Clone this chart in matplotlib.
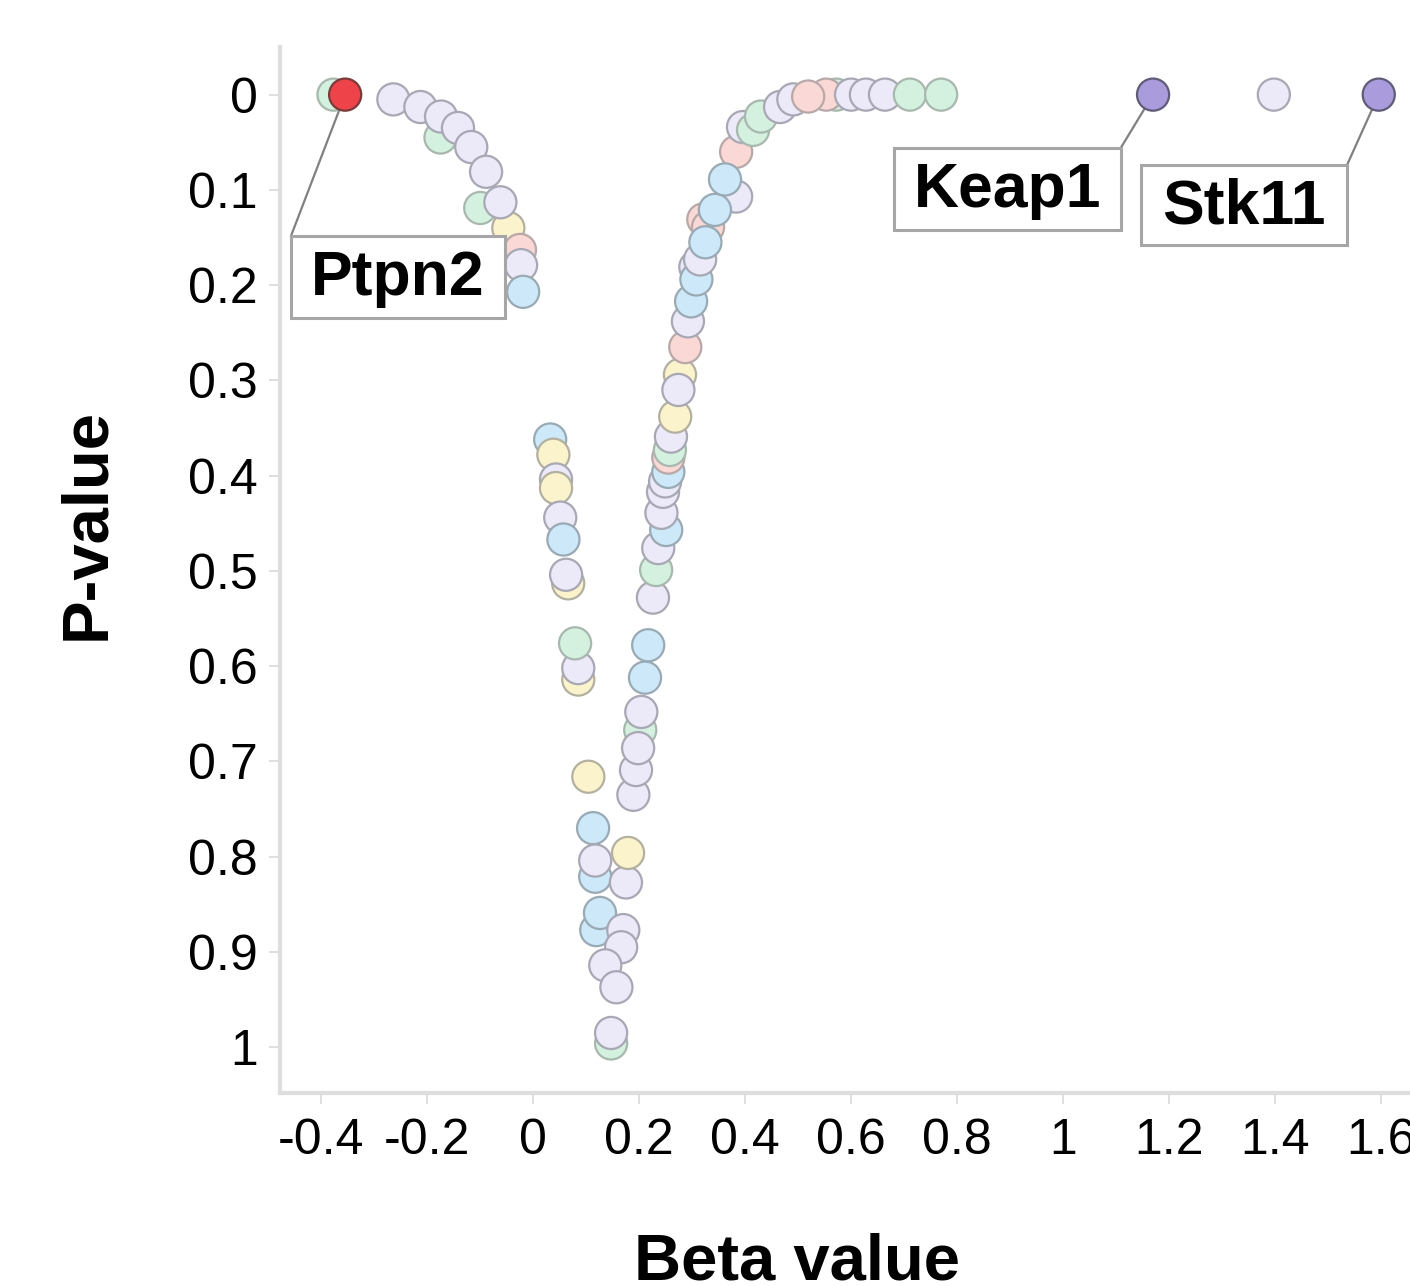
import matplotlib
matplotlib.use("Agg")
import matplotlib.pyplot as plt
from matplotlib.patches import Rectangle

plt.rcParams['font.family'] = ['Liberation Sans', 'DejaVu Sans']

# ---- data ----
beta = [-0.377, -0.355, -0.264, -0.213, -0.175, -0.174, -0.142, -0.117, -0.089,
        -0.100, -0.047, -0.062, -0.025, -0.023, -0.019,
        0.032, 0.038, 0.043, 0.043, 0.051, 0.057, 0.066, 0.062, 0.085, 0.085,
        0.079, 0.104, 0.117, 0.113, 0.117, 0.175, 0.179, 0.119, 0.126, 0.170,
        0.166, 0.136, 0.157, 0.147, 0.147,
        0.189, 0.194, 0.202, 0.198, 0.204, 0.211, 0.217, 0.226, 0.232, 0.236,
        0.251, 0.242, 0.245, 0.249, 0.255, 0.255, 0.258, 0.260, 0.268, 0.277,
        0.274, 0.287, 0.292, 0.298, 0.306, 0.308, 0.315, 0.321, 0.330, 0.325,
        0.383, 0.343, 0.383, 0.362, 0.396, 0.415, 0.430, 0.466, 0.491, 0.572,
        0.553, 0.519, 0.600, 0.628, 0.664, 0.711, 0.770,
        1.170, 1.398, 1.596]
pval = [0.000, 0.000, 0.005, 0.013, 0.045, 0.023, 0.035, 0.055, 0.081,
        0.119, 0.140, 0.113, 0.163, 0.179, 0.207,
        0.362, 0.378, 0.404, 0.413, 0.444, 0.467, 0.513, 0.504, 0.614, 0.602,
        0.576, 0.716, 0.821, 0.770, 0.804, 0.827, 0.796, 0.877, 0.859, 0.877,
        0.895, 0.914, 0.937, 0.996, 0.985,
        0.735, 0.709, 0.667, 0.686, 0.648, 0.612, 0.578, 0.528, 0.499, 0.476,
        0.457, 0.439, 0.417, 0.406, 0.396, 0.381, 0.373, 0.359, 0.338, 0.294,
        0.310, 0.265, 0.238, 0.217, 0.181, 0.194, 0.173, 0.131, 0.139, 0.155,
        0.107, 0.121, 0.060, 0.089, 0.034, 0.037, 0.023, 0.013, 0.005, 0.000,
        0.000, 0.002, 0.000, 0.000, 0.000, 0.000, 0.000,
        0.000, 0.000, 0.000]
group = ['G', 'R', 'L', 'L', 'G', 'L', 'L', 'L', 'L',
         'G', 'Y', 'L', 'P', 'L', 'B',
         'B', 'Y', 'L', 'Y', 'L', 'B', 'Y', 'L', 'Y', 'L',
         'G', 'Y', 'B', 'B', 'L', 'L', 'Y', 'B', 'B', 'L',
         'L', 'L', 'L', 'G', 'L',
         'L', 'L', 'G', 'L', 'L', 'B', 'B', 'L', 'G', 'L',
         'B', 'L', 'L', 'L', 'B', 'P', 'G', 'L', 'Y', 'Y',
         'L', 'P', 'L', 'B', 'L', 'B', 'L', 'P', 'P', 'B',
         'L', 'B', 'P', 'B', 'L', 'G', 'G', 'L', 'L', 'G',
         'P', 'P', 'L', 'L', 'L', 'G', 'G',
         'U', 'L', 'U']

labels = ['Ptpn2', 'Keap1', 'Stk11']
label_idx = [1, 87, 89]

xticks = [-0.4, -0.2, 0, 0.2, 0.4, 0.6, 0.8, 1, 1.2, 1.4, 1.6]
xtick_labels = ['-0.4', '-0.2', '0', '0.2', '0.4', '0.6', '0.8', '1', '1.2', '1.4', '1.6']
yticks = [0, 0.1, 0.2, 0.3, 0.4, 0.5, 0.6, 0.7, 0.8, 0.9, 1]
ytick_labels = ['0', '0.1', '0.2', '0.3', '0.4', '0.5', '0.6', '0.7', '0.8', '0.9', '1']

# label boxes (layout): left, top, right, bottom in data units; connector corner
boxes = [(-0.457, 0.148, -0.053, 0.234), (0.681, 0.056, 1.109, 0.142),
         (1.147, 0.074, 1.536, 0.158)]
corners = [(-0.457, 0.148), (1.109, 0.056), (1.536, 0.074)]

face = {'L': '#ECE9F8', 'G': '#D4F1E0', 'B': '#CDE8F8', 'Y': '#FBF3CC',
        'P': '#F9D8D5', 'R': '#EE4449', 'U': '#A99BDC'}
edge = {'L': '#A8A8B4', 'G': '#A8B8AE', 'B': '#99AAB4', 'Y': '#B4B0A0',
        'P': '#B8A8A8', 'R': '#7A3A3A', 'U': '#605C78'}

fig = plt.figure(figsize=(14.1, 12.86), dpi=100)
ax = fig.add_axes([280 / 1410, 1 - 1093 / 1286, 1130 / 1410, (1093 - 47) / 1286])

fc = [face[g] for g in group]
ec = [edge[g] for g in group]
ax.scatter(beta, pval, s=535, c=fc, edgecolors=ec, linewidths=1.6, zorder=3)

for name, i, (l, t, r, b), (cx, cy) in zip(labels, label_idx, boxes, corners):
    ax.plot([beta[i], cx], [pval[i], cy], color='#808080', lw=1.6, zorder=2)
    ax.add_patch(Rectangle((l, t), r - l, b - t, fc='white', ec='#A6A6A6',
                           lw=2.2, zorder=4))
    ax.text((l + r) / 2, (t + b) / 2 + 0.002, name, ha='center', va='center',
            fontsize=45, fontweight='bold', zorder=5)

ax.set_xlim(-0.478, 1.655)
ax.set_ylim(1.048, -0.050)
ax.set_xticks(xticks)
ax.set_xticklabels(xtick_labels)
ax.set_yticks(yticks)
ax.set_yticklabels(ytick_labels)
ax.tick_params(axis='both', labelsize=36, length=8, width=1.2, color='#D9D9D9',
               labelcolor='black')
ax.tick_params(axis='y', pad=8)
ax.tick_params(axis='x', pad=10)
for s in ['top', 'right']:
    ax.spines[s].set_visible(False)
for s in ['left', 'bottom']:
    ax.spines[s].set_color('#DEDEDE')
    ax.spines[s].set_linewidth(3)

fig.text(797 / 1410, 1 - 1279 / 1286, 'Beta value', ha='center', va='baseline',
         fontsize=47, fontweight='bold')
fig.text(87 / 1410, 1 - 524 / 1286, 'P-value', ha='center', va='center',
         rotation=90, fontsize=47, fontweight='bold')

fig.savefig('out.png', dpi=100)
